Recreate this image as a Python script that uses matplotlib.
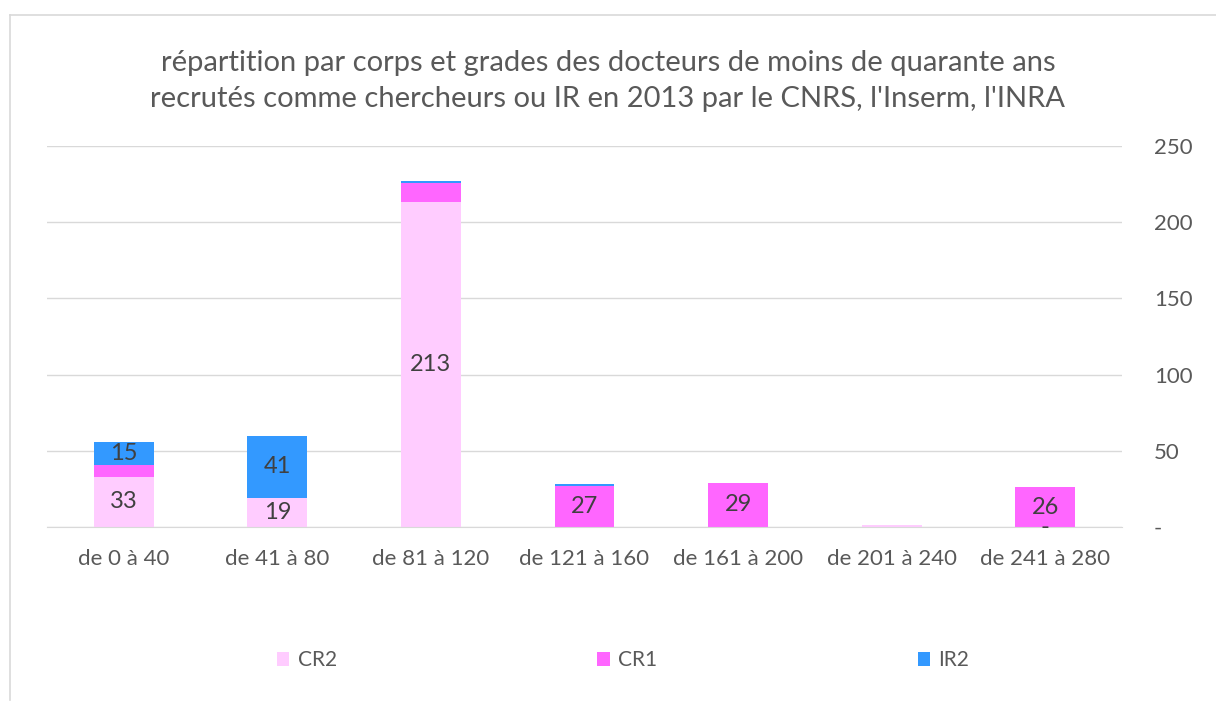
import matplotlib.pyplot as plt
import numpy as np
from matplotlib.lines import Line2D

plt.rcParams['font.family'] = ['Lato', 'DejaVu Sans']

categories = ['de 0 à 40', 'de 41 à 80', 'de 81 à 120', 'de 121 à 160',
              'de 161 à 200', 'de 201 à 240', 'de 241 à 280']
cr2 = [33, 19, 213, 0, 0, 1, 0]
cr1 = [8, 0, 13, 27, 29, 0, 26]
ir2 = [15, 41, 1, 1, 0, 0, 0]

# which bars carry a value label, per series
cr2_labels = ['33', '19', '213', '', '', '', '-']
cr1_labels = ['', '', '', '27', '29', '', '26']
ir2_labels = ['15', '41', '', '', '', '', '']

title = ("répartition par corps et grades des docteurs de moins de quarante ans\n"
         "recrutés comme chercheurs ou IR en 2013 par le CNRS, l'Inserm, l'INRA")

c_cr2 = '#FFCCFF'
c_cr1 = '#FF66FF'
c_ir2 = '#3399FF'
grey = '#595959'
dark = '#404040'

fig = plt.figure(figsize=(12.16, 7.09), dpi=100)
ax = fig.add_axes([47 / 1216, 1 - 527 / 709, (1122 - 47) / 1216, (527 - 146) / 709])

x = np.arange(len(categories))
w = 0.39
b1 = ax.bar(x, cr2, w, color=c_cr2, label='CR2')
bottom2 = np.array(cr2)
b2 = ax.bar(x, cr1, w, bottom=bottom2, color=c_cr1, label='CR1')
bottom3 = bottom2 + np.array(cr1)
b3 = ax.bar(x, ir2, w, bottom=bottom3, color=c_ir2, label='IR2')

ax.bar_label(b1, labels=cr2_labels, label_type='center', fontsize=17, color=dark)
ax.bar_label(b2, labels=cr1_labels, label_type='center', fontsize=17, color=dark)
ax.bar_label(b3, labels=ir2_labels, label_type='center', fontsize=17, color=dark)

ax.set_xlim(-0.5, len(categories) - 0.5)
ax.set_ylim(0, 250)
ax.set_yticks([0, 50, 100, 150, 200, 250])
ax.set_yticklabels(['-', '50', '100', '150', '200', '250'])
ax.yaxis.tick_right()
ax.set_xticks(x)
ax.set_xticklabels(categories)
ax.tick_params(axis='both', length=0, labelsize=16, labelcolor=grey)
ax.tick_params(axis='y', pad=23)
ax.tick_params(axis='x', pad=16)
ax.grid(axis='y', color='#D9D9D9', linewidth=1)
ax.set_axisbelow(True)
for s in ax.spines.values():
    s.set_visible(False)
ax.spines['bottom'].set_visible(True)
ax.spines['bottom'].set_color('#D9D9D9')

fig.text(0.5, 1 - 81 / 709, title, ha='center', va='center', fontsize=21,
         color=grey, linespacing=1.45)

leg = ax.legend(loc='center', bbox_to_anchor=(0.536, -0.35), ncol=3, frameon=False,
                fontsize=15, handlelength=0.6, handleheight=0.6, handletextpad=0.4,
                columnspacing=12.5)
for t in leg.get_texts():
    t.set_color(grey)

# outer frame (left and top edges visible)
fig.add_artist(Line2D([10 / 1216, 10 / 1216], [1 - 15 / 709, 1 - 700 / 709],
                      color='#D9D9D9', linewidth=1.2, transform=fig.transFigure))
fig.add_artist(Line2D([10 / 1216, 1], [1 - 15 / 709, 1 - 15 / 709],
                      color='#D9D9D9', linewidth=1.2, transform=fig.transFigure))

fig.savefig('out.png', dpi=100)
